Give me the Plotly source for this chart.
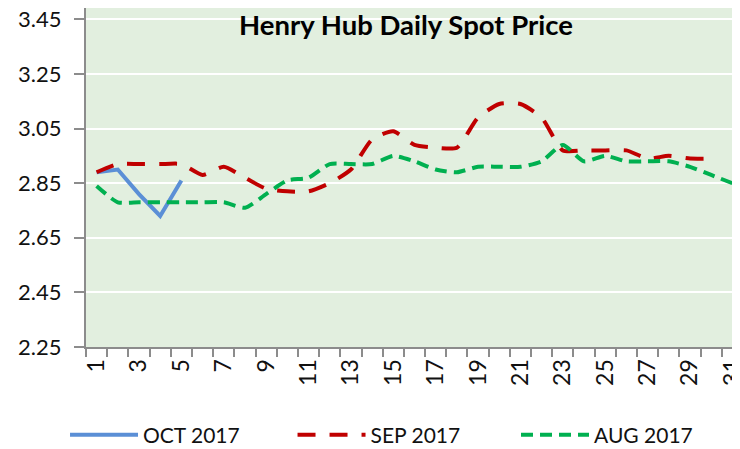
import plotly.graph_objects as go

# ---- data ----
oct_2017 = [2.89, 2.90, 2.81, 2.73, 2.86]
sep_2017 = [2.89, 2.92, 2.92, 2.92, 2.92, 2.88, 2.91, 2.87, 2.83, 2.82,
            2.82, 2.85, 2.90, 3.01, 3.04, 2.99, 2.98, 2.98, 3.09, 3.14,
            3.14, 3.09, 2.97, 2.97, 2.97, 2.97, 2.94, 2.95, 2.94, 2.94]
aug_2017 = [2.84, 2.78, 2.78, 2.78, 2.78, 2.78, 2.78, 2.76, 2.81, 2.86,
            2.87, 2.92, 2.92, 2.92, 2.95, 2.93, 2.90, 2.89, 2.91, 2.91,
            2.91, 2.93, 2.99, 2.93, 2.95, 2.93, 2.93, 2.93, 2.91, 2.88,
            2.85]
day_labels = [str(d) for d in range(1, 32, 2)]
y_ticks = [2.25, 2.45, 2.65, 2.85, 3.05, 3.25, 3.45]

FONT = "Lato"

fig = go.Figure()
fig.add_trace(go.Scatter(
    x=list(range(1, len(oct_2017) + 1)), y=oct_2017, name="OCT 2017",
    mode="lines", line=dict(color="#5B8FD6", width=4), legend="legend",
    showlegend=True))
fig.add_trace(go.Scatter(
    x=list(range(1, len(sep_2017) + 1)), y=sep_2017, name="SEP 2017",
    mode="lines", line=dict(color="#C00000", width=4, dash="18px,14px",
                            shape="spline", smoothing=0.6), legend="legend2",
    showlegend=True))
fig.add_trace(go.Scatter(
    x=list(range(1, len(aug_2017) + 1)), y=aug_2017, name="AUG 2017",
    mode="lines", line=dict(color="#00B050", width=4, dash="12px,7px",
                            shape="spline", smoothing=0.6), legend="legend3",
    showlegend=True))

leg_common = dict(orientation="h", xref="container", yref="container",
                  yanchor="middle", y=0.0317, xanchor="left",
                  font=dict(family=FONT, size=21, color="#111111"),
                  bgcolor="rgba(0,0,0,0)", itemwidth=68)

fig.update_layout(
    width=732, height=441, showlegend=True,
    margin=dict(l=78, r=0, t=0, b=102, autoexpand=False),
    paper_bgcolor="white", plot_bgcolor="#E2EFDF",
    font=dict(family=FONT, size=23, color="#111111"),
    title=dict(text="<b>Henry Hub Daily Spot Price</b>", x=0.5437, xanchor="center",
               xref="container", y=0.9615, yanchor="middle",
               font=dict(family=FONT, size=27.5, color="#000000")),
    legend=dict(x=0.0779, **leg_common),
    legend2=dict(x=0.3887, **leg_common),
    legend3=dict(x=0.694, **leg_common),
    xaxis=dict(range=[0.5, 31.36], tickvals=list(range(1, 32, 2)), ticktext=day_labels,
               tickangle=-90, ticks="", showgrid=False, zeroline=False,
               showline=True, linecolor="#8C8C8C", linewidth=2,
               ticklabelstandoff=1, automargin=False, ticklabeloverflow="allow",
               minor=dict(tick0=0.5, dtick=1, ticks="outside", ticklen=8,
                          tickcolor="#8C8C8C", tickwidth=2, showgrid=False),
               tickfont=dict(family=FONT, size=23, color="#111111")),
    yaxis=dict(range=[2.25, 3.4915], tickvals=y_ticks, tickformat=".2f",
               ticks="outside", ticklen=10, tickcolor="#8C8C8C", tickwidth=2,
               showgrid=True, gridcolor="white", gridwidth=2, zeroline=False,
               showline=True, linecolor="#8C8C8C", linewidth=2,
               ticklabelstandoff=8, automargin=False, ticklabeloverflow="allow",
               tickfont=dict(family=FONT, size=22, color="#111111")),
)

fig.write_html("out.html")
